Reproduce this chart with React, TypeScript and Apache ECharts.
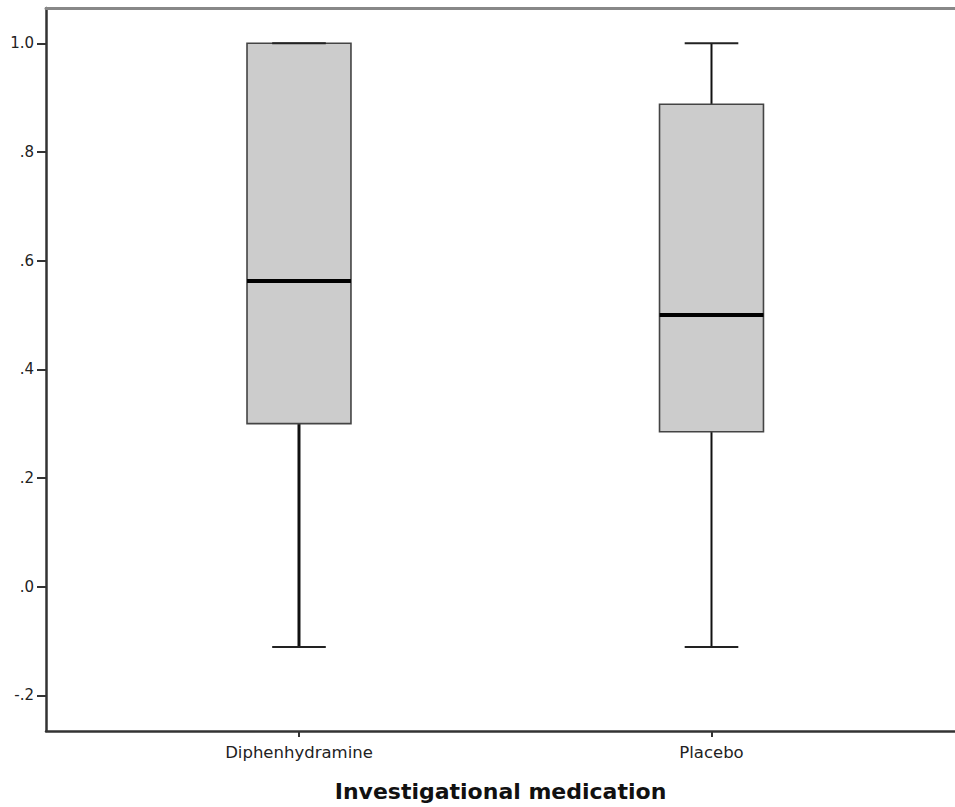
import React, { useEffect, useRef } from "react";
import * as echarts from "echarts";

const categories = ["Diphenhydramine", "Placebo"];
const positions = [1, 2];
const mins = [-0.111, -0.111];
const q1s = [0.3, 0.285];
const medians = [0.5625, 0.5];
const q3s = [1.0, 0.888];
const maxs = [1.0, 1.0];
const whiskerWidths = [3, 2];
const yTicks = [-0.2, 0, 0.2, 0.4, 0.6, 0.8, 1.0];

const fmtY = (v: number) => v.toFixed(1).replace(/^(-?)0\./, "$1.");

export default function App() {
  const ref = useRef<HTMLDivElement>(null);
  useEffect(() => {
    if (!ref.current) return;
    const chart = echarts.init(ref.current, null, { renderer: "svg" });
    const data = positions.map((p, i) => [p, mins[i], q1s[i], medians[i], q3s[i], maxs[i], whiskerWidths[i]]);
    const boxW = 0.252;
    const capW = 0.13;
    chart.setOption({
      animation: false,
      backgroundColor: "#ffffff",
      grid: { left: 46, right: 0, top: 8, bottom: 75 },
      xAxis: [
        {
          type: "value",
          min: 0.3867,
          max: 2.5903,
          position: "bottom",
          splitLine: { show: false },
          axisLine: { show: true, onZero: false, lineStyle: { color: "#333", width: 2.5 } },
          axisTick: { show: true, customValues: positions, length: 6, lineStyle: { color: "#333", width: 2 } },
          axisLabel: {
            customValues: positions,
            formatter: (v: number) => categories[Math.round(v) - 1] ?? "",
            fontSize: 16.5,
            color: "#222",
            fontFamily: "DejaVu Sans",
            margin: 13,
          },
          name: "Investigational medication",
          nameLocation: "middle",
          nameGap: 49,
          nameTextStyle: { fontSize: 22, fontWeight: "bold", color: "#111", fontFamily: "DejaVu Sans" },
        },
        {
          type: "value",
          min: 0.3867,
          max: 2.5903,
          position: "top",
          splitLine: { show: false },
          axisLine: { show: true, onZero: false, lineStyle: { color: "#888", width: 3 } },
          axisTick: { show: false },
          axisLabel: { show: false },
        },
      ],
      yAxis: {
        type: "value",
        min: -0.2656,
        max: 1.065,
        splitLine: { show: false },
        axisLine: { show: true, onZero: false, lineStyle: { color: "#333", width: 2.5 } },
        axisTick: { show: true, customValues: yTicks, length: 9, lineStyle: { color: "#333", width: 2 } },
        axisLabel: {
          customValues: yTicks,
          formatter: (v: number) => fmtY(v),
          fontSize: 15,
          color: "#222",
          fontFamily: "DejaVu Sans",
          margin: 12,
        },
      },
      series: [
        {
          type: "custom",
          xAxisIndex: 0,
          data,
          renderItem: (params: any, api: any) => {
            const x = api.value(0);
            const vMin = api.value(1);
            const vQ1 = api.value(2);
            const vMed = api.value(3);
            const vQ3 = api.value(4);
            const vMax = api.value(5);
            const ww = api.value(6);
            const pMin = api.coord([x, vMin]);
            const pQ1 = api.coord([x, vQ1]);
            const pMed = api.coord([x, vMed]);
            const pQ3 = api.coord([x, vQ3]);
            const pMax = api.coord([x, vMax]);
            const hb = api.size([boxW, 0])[0] / 2;
            const hc = api.size([capW, 0])[0] / 2;
            const cx = pMed[0];
            return {
              type: "group",
              children: [
                {
                  type: "line",
                  shape: { x1: cx, y1: pQ1[1], x2: cx, y2: pMin[1] },
                  style: { stroke: "#111", lineWidth: ww },
                },
                {
                  type: "line",
                  shape: { x1: cx, y1: pQ3[1], x2: cx, y2: pMax[1] },
                  style: { stroke: "#111", lineWidth: ww },
                },
                {
                  type: "rect",
                  shape: { x: cx - hb, y: pQ3[1], width: hb * 2, height: pQ1[1] - pQ3[1] },
                  style: { fill: "#cccccc", stroke: "#444", lineWidth: 1.6 },
                },
                {
                  type: "line",
                  shape: { x1: cx - hb, y1: pMed[1], x2: cx + hb, y2: pMed[1] },
                  style: { stroke: "#000", lineWidth: 4 },
                },
                {
                  type: "line",
                  shape: { x1: cx - hc, y1: pMin[1], x2: cx + hc, y2: pMin[1] },
                  style: { stroke: "#222", lineWidth: 2 },
                },
                {
                  type: "line",
                  shape: { x1: cx - hc, y1: pMax[1], x2: cx + hc, y2: pMax[1] },
                  style: { stroke: "#222", lineWidth: 2 },
                },
              ],
            };
          },
        },
      ],
    });
    return () => chart.dispose();
  }, []);
  return (
    <div
      ref={ref}
      style={{ position: "absolute", left: 0, top: 0, width: 955, height: 807 }}
    />
  );
}
